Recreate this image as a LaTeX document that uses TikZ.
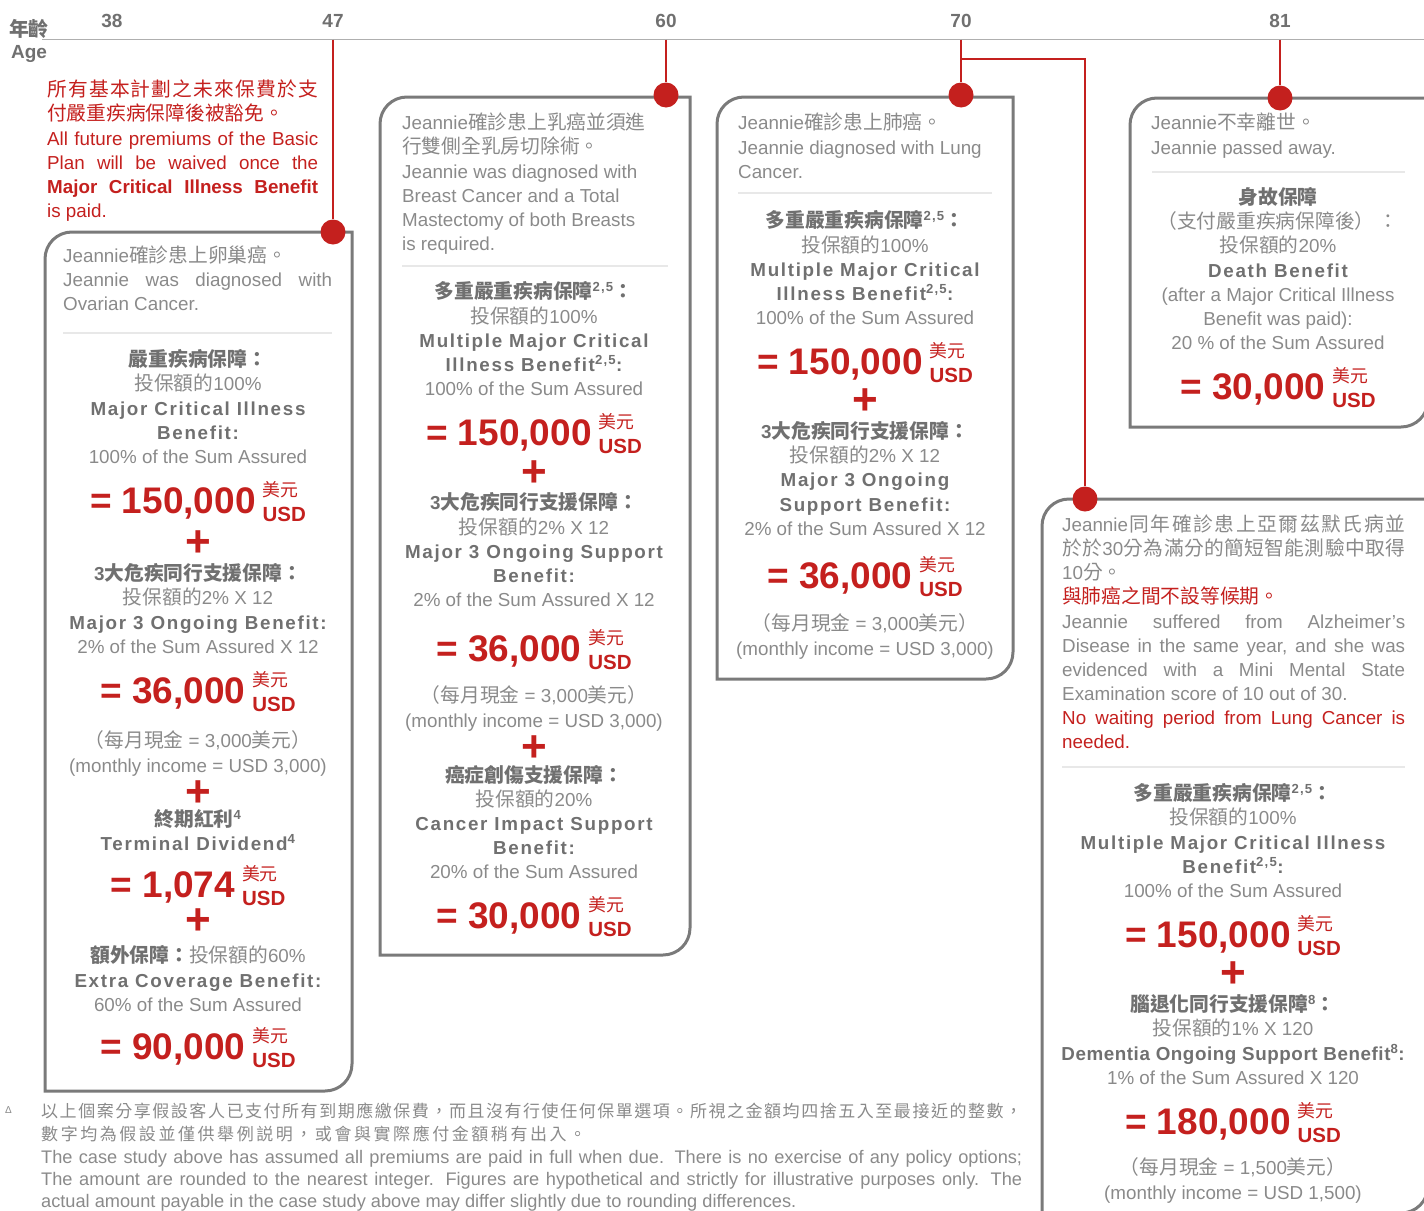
\documentclass[tikz,border=0pt]{standalone}
\usepackage{fontspec}
\setmainfont{Liberation Sans}
\newfontfamily\cjk{Noto Sans CJK TC}[Scale=1.05]
\newfontfamily\cjkfoot{Noto Sans CJK TC}
\newfontfamily\hdfont{Liberation Sans}[LetterSpace=9]
\newfontfamily\hdtight{Liberation Sans}[LetterSpace=3]
\usetikzlibrary{positioning}

\definecolor{cred}{RGB}{196,32,30}
\definecolor{txtgray}{RGB}{138,138,138}
\definecolor{hdgray}{RGB}{112,112,112}
\definecolor{boxgray}{RGB}{122,122,122}
\definecolor{sepgray}{RGB}{232,232,232}
\definecolor{axisgray}{RGB}{175,175,175}

\newcommand\zh[1]{{\cjk #1}}
\newcommand\jl[2]{\makebox[#1][s]{#2}}
% spread a line of Chinese characters over a given width
\makeatletter
\newcommand\jzh[2]{\hbox to #1{\@tfor\z@ch:=#2\do{\z@ch\hfil}\unskip}}
\makeatother
\newcommand\cur{\makebox[0pt][l]{\raisebox{17pt}{\fontsize{17}{17}\selectfont\cjk 美元}}\raisebox{-8pt}{\fontsize{20.5}{20.5}\selectfont\bfseries USD}}
\newcommand\amt[1]{{\fontsize{37}{37}\selectfont\bfseries = #1}\hspace{7pt}\cur}
% box with rounded top-left and bottom-right corners
\newcommand\cbox[4]{\draw[boxline] (#1,#4) -- (#1,#2+27) .. controls (#1,#2+12) and (#1+12,#2) .. (#1+27,#2) -- (#3,#2) -- (#3,#4-27) .. controls (#3,#4-12) and (#3-12,#4) .. (#3-27,#4) -- cycle;}

\begin{document}
\begin{tikzpicture}[x=1pt, y=-1pt,
    txt/.style={anchor=base, inner sep=0pt, text=txtgray, font=\fontsize{18.8}{22}\selectfont},
    hd/.style={txt, text=hdgray, font=\fontsize{18.8}{22}\selectfont\hdfont\bfseries},
    hdt/.style={hd, font=\fontsize{18.8}{22}\selectfont\hdtight\bfseries},
    amt/.style={anchor=base, inner sep=0pt, text=cred},
    plus/.style={inner sep=0pt, text=cred, font=\fontsize{44}{44}\selectfont\bfseries},
    desc/.style={txt, anchor=base west},
    descred/.style={desc, text=cred},
    foot/.style={anchor=base west, inner sep=0pt, text=txtgray, font=\fontsize{18.2}{20}\selectfont},
    age/.style={anchor=base, inner sep=0pt, text=hdgray, font=\fontsize{19}{22}\selectfont\bfseries},
    dot/.style={circle, fill=cred, minimum size=25pt, inner sep=0pt},
    redline/.style={draw=cred, line width=2.5pt},
    boxline/.style={draw=boxgray, line width=3pt},
    sep/.style={draw=sepgray, line width=1.5pt},
    axis/.style={draw=axisgray, line width=1.5pt}]
    \useasboundingbox (0,0) rectangle (1424,1210);
    \clip (0,0) rectangle (1424,1210);

    % Age axis
    \draw[axis] (42,39.5) -- (1424,39.5);
    \node[age] (yr-zh) at (29,36) {\zh{年齡}};
    \node[age] (yr-en) at (29,58) {Age};
    \foreach \x/\a in {112/38, 333/47, 666/60, 961/70, 1280/81}
        \coordinate (t\a) at (\x,39.5);
    \foreach \x/\a in {112/38, 333/47, 666/60, 961/70, 1280/81}
        \node[age] (age\a) at (\x,27) {\a};

    % Boxes
    \cbox{45}{232}{352}{1091}
    \cbox{380}{97}{690}{955}
    \cbox{717}{97}{1013}{679}
    \cbox{1130}{98}{1428}{427}
    \cbox{1042}{499}{1428}{1213}
    \draw[sep] (63,333) -- (332,333);
    \draw[sep] (402,266) -- (668,266);
    \draw[sep] (738,193) -- (992,193);
    \draw[sep] (1152,172) -- (1405,172);
    \draw[sep] (1062,767) -- (1405,767);

    % Events on the time line
    \node[dot] (d47) at (333,232) {};
    \node[dot] (d60) at (666,95) {};
    \node[dot] (d70) at (961,95) {};
    \node[dot] (d81) at (1280,98) {};
    \node[dot] (d70b) at (1085,499) {};
    \coordinate (k70) at (961,59);
    \draw[redline]
        (t47) -- (d47)
        (t60) -- (d60)
        (t70) -- (d70)
        (t81) -- (d81)
        (k70) -| (d70b);

    % Waiver note
    \foreach \y/\t [count=\i] in {96/\zh{\jzh{271pt}{所有基本計劃之未來保費於支}},
        120/\zh{付嚴重疾病保障後被豁免。},
        145/\jl{271pt}{All future premiums of the Basic},
        169/\jl{271pt}{Plan will be waived once the},
        193/\jl{271pt}{\bfseries Major Critical Illness Benefit},
        217/is paid.}
        \node[descred] (n-\i) at (47,\y) {\t};

    % Age 47
    \foreach \y/\t [count=\i] in {262/Jeannie\zh{確診患上卵巢癌。},
        286/\jl{269pt}{Jeannie was diagnosed with},
        310/Ovarian Cancer.}
        \node[desc] (a-d\i) at (63,\y) {\t};
    \foreach \y/\s/\t [count=\i] in {366/hd/\zh{嚴重疾病保障：},
        390/txt/\zh{投保額的}100\%,
        415/hd/Major Critical Illness,
        439/hd/Benefit:,
        463/txt/100\% of the Sum Assured,
        513/amt/{\amt{150,000}},
        544/plus/+,
        580/hd/3\zh{大危疾同行支援保障：},
        604/txt/\zh{投保額的}2\% X 12,
        629/hd/Major 3 Ongoing Benefit:,
        653/txt/2\% of the Sum Assured X 12,
        703/amt/{\amt{36,000}},
        747/txt/{\zh{（每月現金} = 3,000\zh{美元）}},
        772/txt/{(monthly income = USD 3,000)},
        794/plus/+,
        826/hd/\zh{終期紅利}\textsuperscript{4},
        850/hd/Terminal Dividend\textsuperscript{4},
        897/amt/{\amt{1,074}},
        922/plus/+,
        962/txt/{\color{hdgray}\bfseries\zh{額外保障：}}\zh{投保額的}60\%,
        987/hd/Extra Coverage Benefit:,
        1011/txt/60\% of the Sum Assured,
        1059/amt/{\amt{90,000}}}
        \node[\s] (a-\i) at (198,\y) {\t};

    % Age 60
    \foreach \y/\t [count=\i] in {129/Jeannie\zh{確診患上乳癌並須進},
        153/\zh{行雙側全乳房切除術。},
        178/Jeannie was diagnosed with,
        202/Breast Cancer and a Total,
        226/Mastectomy of both Breasts,
        250/is required.}
        \node[desc] (b-d\i) at (402,\y) {\t};
    \foreach \y/\s/\t [count=\i] in {298/hd/\zh{多重嚴重疾病保障}\textsuperscript{2,5}\zh{：},
        323/txt/\zh{投保額的}100\%,
        347/hd/Multiple Major Critical,
        371/hd/Illness Benefit\textsuperscript{2,5}:,
        395/txt/100\% of the Sum Assured,
        445/amt/{\amt{150,000}},
        474/plus/+,
        509/hd/3\zh{大危疾同行支援保障：},
        534/txt/\zh{投保額的}2\% X 12,
        558/hd/Major 3 Ongoing Support,
        582/hd/Benefit:,
        606/txt/2\% of the Sum Assured X 12,
        661/amt/{\amt{36,000}},
        702/txt/{\zh{（每月現金} = 3,000\zh{美元）}},
        727/txt/{(monthly income = USD 3,000)},
        749/plus/+,
        782/hd/\zh{癌症創傷支援保障：},
        806/txt/\zh{投保額的}20\%,
        830/hd/Cancer Impact Support,
        854/hd/Benefit:,
        878/txt/20\% of the Sum Assured,
        928/amt/{\amt{30,000}}}
        \node[\s] (b-\i) at (534,\y) {\t};

    % Age 70
    \foreach \y/\t [count=\i] in {129/Jeannie\zh{確診患上肺癌。},
        154/Jeannie diagnosed with Lung,
        178/Cancer.}
        \node[desc] (c-d\i) at (738,\y) {\t};
    \foreach \y/\s/\t [count=\i] in {227/hd/\zh{多重嚴重疾病保障}\textsuperscript{2,5}\zh{：},
        252/txt/\zh{投保額的}100\%,
        276/hd/Multiple Major Critical,
        300/hd/Illness Benefit\textsuperscript{2,5}:,
        324/txt/100\% of the Sum Assured,
        374/amt/{\amt{150,000}},
        402/plus/+,
        438/hd/3\zh{大危疾同行支援保障：},
        462/txt/\zh{投保額的}2\% X 12,
        486/hd/Major 3 Ongoing,
        511/hd/Support Benefit:,
        535/txt/2\% of the Sum Assured X 12,
        588/amt/{\amt{36,000}},
        630/txt/{\zh{（每月現金} = 3,000\zh{美元）}},
        655/txt/{(monthly income = USD 3,000)}}
        \node[\s] (c-\i) at (865,\y) {\t};

    % Age 81
    \foreach \y/\t [count=\i] in {129/Jeannie\zh{不幸離世。},
        154/Jeannie passed away.}
        \node[desc] (e-d\i) at (1151,\y) {\t};
    \foreach \y/\s/\t [count=\i] in {204/hd/\zh{身故保障},
        228/txt/\zh{（支付嚴重疾病保障後）\ ：},
        252/txt/\zh{投保額的}20\%,
        277/hd/Death Benefit,
        301/txt/(after a Major Critical Illness,
        325/txt/Benefit was paid):,
        349/txt/20 \% of the Sum Assured,
        399/amt/{\amt{30,000}}}
        \node[\s] (e-\i) at (1278,\y) {\t};

    % Age 70, Alzheimer's
    \foreach \y/\s/\t [count=\i] in {531/desc/\zh{\jzh{343pt}{{{\normalfont Jeannie}}同年確診患上亞爾茲默氏病並}},
        555/desc/\zh{\jzh{343pt}{於於{{\normalfont 30}}分為滿分的簡短智能測驗中取得}},
        579/desc/10\zh{分。},
        603/descred/\zh{與肺癌之間不設等候期。},
        628/desc/\jl{343pt}{Jeannie suffered from Alzheimer’s},
        652/desc/{\jl{343pt}{Disease in the same year, and she was}},
        676/desc/\jl{343pt}{evidenced with a Mini Mental State},
        700/desc/Examination score of 10 out of 30.,
        724/descred/\jl{343pt}{No waiting period from Lung Cancer is},
        748/descred/needed.}
        \node[\s] (f-d\i) at (1062,\y) {\t};
    \foreach \y/\s/\t [count=\i] in {800/hd/\zh{多重嚴重疾病保障}\textsuperscript{2,5}\zh{：},
        824/txt/\zh{投保額的}100\%,
        849/hd/Multiple Major Critical Illness,
        873/hd/Benefit\textsuperscript{2,5}:,
        897/txt/100\% of the Sum Assured,
        947/amt/{\amt{150,000}},
        975/plus/+,
        1011/hd/\zh{腦退化同行支援保障}\textsuperscript{8}\zh{：},
        1035/txt/\zh{投保額的}1\% X 120,
        1060/hdt/Dementia Ongoing Support Benefit\textsuperscript{8}:,
        1084/txt/1\% of the Sum Assured X 120,
        1134/amt/{\amt{180,000}},
        1174/txt/{\zh{（每月現金} = 1,500\zh{美元）}},
        1199/txt/{(monthly income = USD 1,500)}}
        \node[\s] (f-\i) at (1233,\y) {\t};

    % Footnote
    \node[foot, font=\fontsize{10}{10}\selectfont] (fn-mark) at (5,1113) {Δ};
    \node[foot] (fn-1) at (41,1117) {\fontsize{17}{20}\selectfont\cjkfoot \jzh{981pt}{以上個案分享假設客人已支付所有到期應繳保費，而且沒有行使任何保單選項。所視之金額均四捨五入至最接近的整數，}};
    \node[foot] (fn-2) at (41,1140) {\fontsize{17}{20}\selectfont\cjkfoot \jzh{545pt}{數字均為假設並僅供舉例説明，或會與實際應付金額稍有出入。}};
    \node[foot] (fn-3) at (41,1163) {\jl{981pt}{The case study above has assumed all premiums are paid in full when due. There is no exercise of any policy options;}};
    \node[foot] (fn-4) at (41,1185) {\jl{981pt}{The amount are rounded to the nearest integer. Figures are hypothetical and strictly for illustrative purposes only. The}};
    \node[foot] (fn-5) at (41,1207) {actual amount payable in the case study above may differ slightly due to rounding differences.};
\end{tikzpicture}
\end{document}
